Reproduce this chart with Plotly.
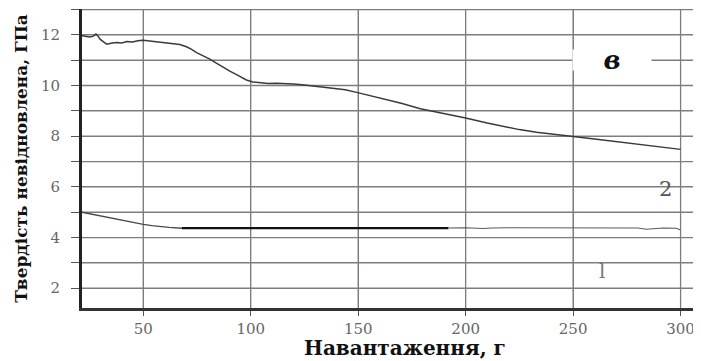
import plotly.graph_objects as go

# Curve 2 (upper)
x2 = [21.5, 23.5, 25.2, 26.8, 28.0, 29.0, 29.9, 31.5, 33.0, 35.0, 37.6, 40.0, 42.3, 45.0, 47.5, 50.0,
      53.0, 56.2, 60.0, 64.0, 67.0, 70.1, 72.5, 74.8, 78.0, 81.0, 84.0, 87.2, 90.5, 93.4, 96.0, 98.0,
      101.0, 104.3, 108.0, 112.0, 116.0, 119.8, 124.0, 129.0, 134.0, 138.4, 144.0, 149.3, 155.6,
      160.0, 170.0, 178.9, 190.0, 200.0, 210.0, 217.5, 225.0, 233.0, 241.0, 250.0, 260.0, 271.7,
      281.0, 290.3, 296.0, 300.0]
y2 = [11.96, 11.93, 11.92, 11.95, 12.03, 11.95, 11.83, 11.72, 11.63, 11.67, 11.70, 11.68, 11.74, 11.72,
      11.77, 11.79, 11.76, 11.74, 11.71, 11.66, 11.62, 11.53, 11.43, 11.30, 11.18, 11.04, 10.88, 10.71,
      10.56, 10.43, 10.30, 10.22, 10.14, 10.10, 10.08, 10.09, 10.06, 10.06, 10.03, 9.98, 9.95, 9.90,
      9.83, 9.73, 9.60, 9.51, 9.30, 9.08, 8.90, 8.72, 8.52, 8.38, 8.26, 8.16, 8.07, 7.99, 7.89, 7.77,
      7.69, 7.60, 7.53, 7.48]

# Curve 1 (lower), three parts
x1a = [21.5, 25.0, 29.9, 35.0, 39.2, 45.0, 50.0, 54.0, 57.9, 62.0, 68.0]
y1a = [5.00, 4.94, 4.87, 4.78, 4.69, 4.60, 4.52, 4.47, 4.43, 4.40, 4.37]
x1b = [68.0, 192.0]
y1b = [4.37, 4.37]
x1c = [192.0, 200.0, 208.0, 212.0, 220.0, 240.0, 260.0, 280.0, 284.0, 288.0, 292.0, 298.0, 300.0]
y1c = [4.38, 4.39, 4.36, 4.38, 4.39, 4.38, 4.38, 4.38, 4.33, 4.35, 4.38, 4.37, 4.30]

y_tickvals = [2, 3, 4, 5, 6, 7, 8, 9, 10, 11, 12, 13]
y_ticktext = ["2", "", "4", "", "6", "", "8", "", "10", "", "12", ""]
x_tickvals = [50, 100, 150, 200, 250, 300]

fig = go.Figure()
fig.add_trace(go.Scatter(x=x2, y=y2, mode="lines", line=dict(color="#3a3a3a", width=1.5), hoverinfo="skip"))
fig.add_trace(go.Scatter(x=x1a, y=y1a, mode="lines", line=dict(color="#4a4a4a", width=1.4), hoverinfo="skip"))
fig.add_trace(go.Scatter(x=x1b, y=y1b, mode="lines", line=dict(color="#111111", width=2.2), hoverinfo="skip"))
fig.add_trace(go.Scatter(x=x1c, y=y1c, mode="lines", line=dict(color="#5a5a5a", width=1.1), hoverinfo="skip"))

serif = "DejaVu Serif"
grid = "#7c7c88"

# page is offset by the default 8px body margin; size the figure so the plot area lands on the reference
W, H = 693, 353
L, T = 74, 1
PW, PH = 619, 299

# grid lines as shapes placed at the tick values (axis grid kept too)
grid_shapes = []
for xv in x_tickvals:
    grid_shapes.append(dict(type="line", xref="x", yref="paper", x0=xv, x1=xv, y0=0, y1=1,
                            layer="below", line=dict(color=grid, width=1.3)))
for yv in y_tickvals:
    grid_shapes.append(dict(type="line", xref="paper", yref="y", x0=0, x1=1, y0=yv, y1=yv,
                            layer="below", line=dict(color=grid, width=1.3)))

fig.update_layout(
    template="none",
    width=W, height=H,
    margin=dict(l=L, r=W - L - PW, t=T, b=H - T - PH, autoexpand=False),
    paper_bgcolor="white", plot_bgcolor="white",
    showlegend=False,
    font=dict(family=serif, color="#555555"),
    shapes=grid_shapes,
    xaxis=dict(
        range=[21.5, 309.5], tickmode="array", tickvals=x_tickvals,
        showgrid=True, gridcolor=grid, gridwidth=1,
        showline=True, linecolor="#333333", linewidth=2.5,
        ticks="outside", ticklen=5, tickcolor="#555555", tickwidth=1,
        tickfont=dict(family=serif, size=15, color="#666666"),
        zeroline=False, automargin=False,
    ),
    yaxis=dict(
        range=[1.22, 13.02], tickmode="array", tickvals=y_tickvals, ticktext=y_ticktext,
        showgrid=True, gridcolor=grid, gridwidth=1,
        showline=True, linecolor="#222222", linewidth=2.8,
        ticks="outside", ticklen=8, tickcolor="#555555", tickwidth=1,
        ticklabelstandoff=8,
        tickfont=dict(family=serif, size=15, color="#666666"),
        zeroline=False, automargin=False,
        title=dict(text="<b>Твердість невідновлена, ГПа</b>", standoff=10,
                   font=dict(family=serif, size=17, color="#111111")),
    ),
    annotations=[
        dict(text="<b>Навантаження, г</b>", xref="paper", yref="paper", x=(405 - 82) / PW, y=-(348 - 308) / PH,
             showarrow=False, xanchor="center", yanchor="middle",
             font=dict(family=serif, size=20, color="#111111")),
        dict(text="<b><i>в</i></b>", x=268.0, y=11.0, showarrow=False, xanchor="center", yanchor="middle",
             bgcolor="white", width=76, height=18,
             font=dict(family=serif, size=26, color="#111111")),
        dict(text="2", x=293.0, y=5.92, showarrow=False, xanchor="center", yanchor="middle",
             font=dict(family=serif, size=21, color="#555555")),
        dict(text="l", x=263.5, y=2.7, showarrow=False, xanchor="center", yanchor="middle",
             font=dict(family=serif, size=20, color="#777777")),
    ],
)

fig.write_html("out.html")
